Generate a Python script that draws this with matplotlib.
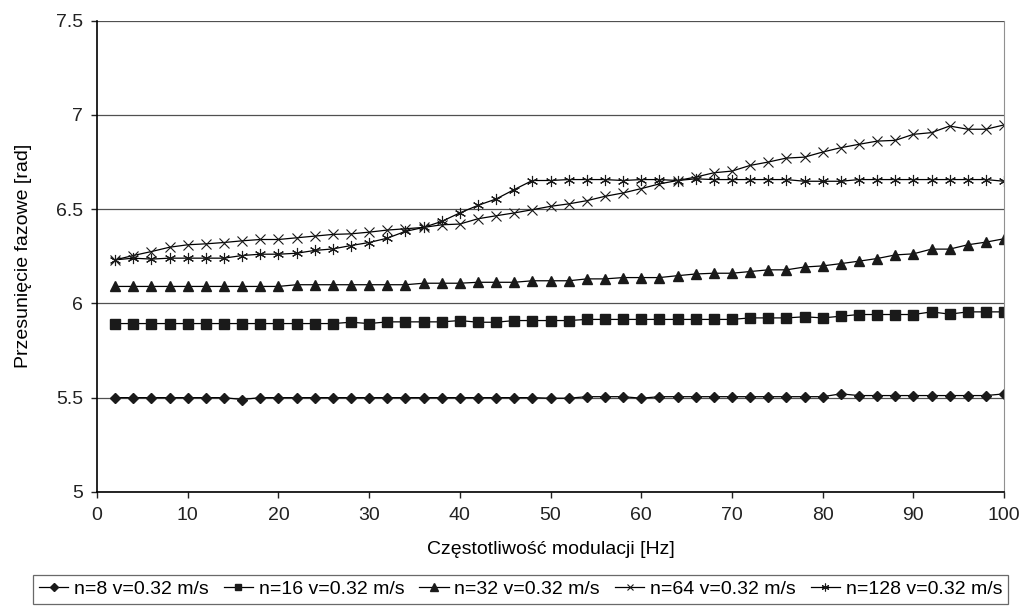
import numpy as np
import matplotlib
matplotlib.use("Agg")
import matplotlib.pyplot as plt

plt.rcParams['font.family'] = ['Liberation Sans', 'DejaVu Sans']

# modulation frequency [Hz]
freq = list(range(2, 101, 2))

n8 = [5.50] * 7 + [5.49] + [5.50] * 16 + [5.497, 5.497] + [5.505] * 3 + [5.497] \
    + [5.505] * 10 + [5.52] + [5.511] * 8 + [5.52]

n16 = [5.893] * 13 + [5.90, 5.893] + [5.902] * 4 + [5.909, 5.90, 5.90] + [5.909] * 4 \
    + [5.915] * 9 + [5.923] * 3 + [5.929, 5.923, 5.932] + [5.941] * 4 \
    + [5.955, 5.943, 5.955, 5.955, 5.955]

n32 = [6.09] * 10 + [6.099] * 7 + [6.107] * 3 + [6.112] * 3 + [6.12] * 3 \
    + [6.13, 6.13, 6.137, 6.137, 6.137, 6.147, 6.156, 6.16, 6.16, 6.169, 6.178, 6.178,
       6.193, 6.199, 6.211, 6.224, 6.238, 6.257, 6.263, 6.288, 6.288, 6.311, 6.325, 6.343]

n64 = [6.231, 6.254, 6.275, 6.298, 6.311, 6.316, 6.323, 6.332, 6.339, 6.339,
       6.348, 6.357, 6.366, 6.369, 6.378, 6.389, 6.396, 6.403, 6.417, 6.421,
       6.449, 6.465, 6.48, 6.497, 6.515, 6.528, 6.545, 6.568, 6.586, 6.609,
       6.634, 6.652, 6.67, 6.693, 6.702, 6.732, 6.75, 6.771, 6.776, 6.803,
       6.826, 6.844, 6.861, 6.865, 6.897, 6.906, 6.941, 6.924, 6.924, 6.947]

n128 = [6.231, 6.24, 6.235, 6.24, 6.24, 6.24, 6.24, 6.254, 6.261, 6.261,
        6.266, 6.281, 6.289, 6.307, 6.323, 6.346, 6.382, 6.403, 6.435, 6.48,
        6.52, 6.554, 6.604, 6.652, 6.652, 6.657, 6.657, 6.657, 6.652, 6.657,
        6.657, 6.652, 6.661, 6.657] + [6.657] * 4 + [6.648] * 3 + [6.657] * 8 + [6.648]

labels = ["n=8 v=0.32 m/s", "n=16 v=0.32 m/s", "n=32 v=0.32 m/s",
          "n=64 v=0.32 m/s", "n=128 v=0.32 m/s"]

fig = plt.figure(figsize=(10.25, 6.08), dpi=100)
ax = fig.add_axes([0.0946, 0.191, 0.885, 0.775])

ax.plot(freq, n8, color='k', lw=0.9, marker='D', ms=5.5, mfc='#1a1a1a', mec='#1a1a1a', label=labels[0])
ax.plot(freq, n16, color='k', lw=0.9, marker='s', ms=6.5, mfc='#1a1a1a', mec='#1a1a1a', label=labels[1])
ax.plot(freq, n32, color='k', lw=0.9, marker='^', ms=7.5, mfc='#1a1a1a', mec='#1a1a1a', label=labels[2])
ax.plot(freq, n64, color='k', lw=0.9, marker='x', ms=7, mew=0.8, mec='#1a1a1a', label=labels[3])
ax.plot(freq, n128, color='k', lw=0.9, marker=(6, 2, 0), ms=8, mew=0.8, mec='#1a1a1a', label=labels[4])

ax.set_xlim(0, 100)
ax.set_ylim(5, 7.5)
ax.set_xticks(np.arange(0, 101, 10))
ax.set_yticks([5, 5.5, 6, 6.5, 7, 7.5])
ax.set_yticklabels(['5', '5.5', '6', '6.5', '7', '7.5'])
ax.yaxis.grid(True, color='#505050', lw=0.9)
ax.set_axisbelow(True)

ax.spines['top'].set_visible(False)
ax.spines['right'].set_color('#909090')
ax.spines['left'].set_linewidth(1.2)
ax.spines['bottom'].set_linewidth(1.2)
ax.tick_params(axis='both', direction='out', length=4, width=1, labelsize=14, colors='#222222')
ax.tick_params(axis='x', pad=7)
ax.tick_params(axis='y', pad=6)

ax.set_xlabel("Częstotliwość modulacji [Hz]", fontsize=14, labelpad=12)
ax.set_ylabel("Przesunięcie fazowe [rad]", fontsize=14, labelpad=17)

leg = fig.legend(loc='center', bbox_to_anchor=(0.508, 0.031), ncol=5,
                 fontsize=14, frameon=True, fancybox=False, edgecolor='#444444',
                 handlelength=1.5, columnspacing=0.77, handletextpad=0.3,
                 borderpad=0.3, borderaxespad=0, markerscale=0.7)
leg.get_frame().set_linewidth(0.9)

fig.savefig("out.png", dpi=100)
